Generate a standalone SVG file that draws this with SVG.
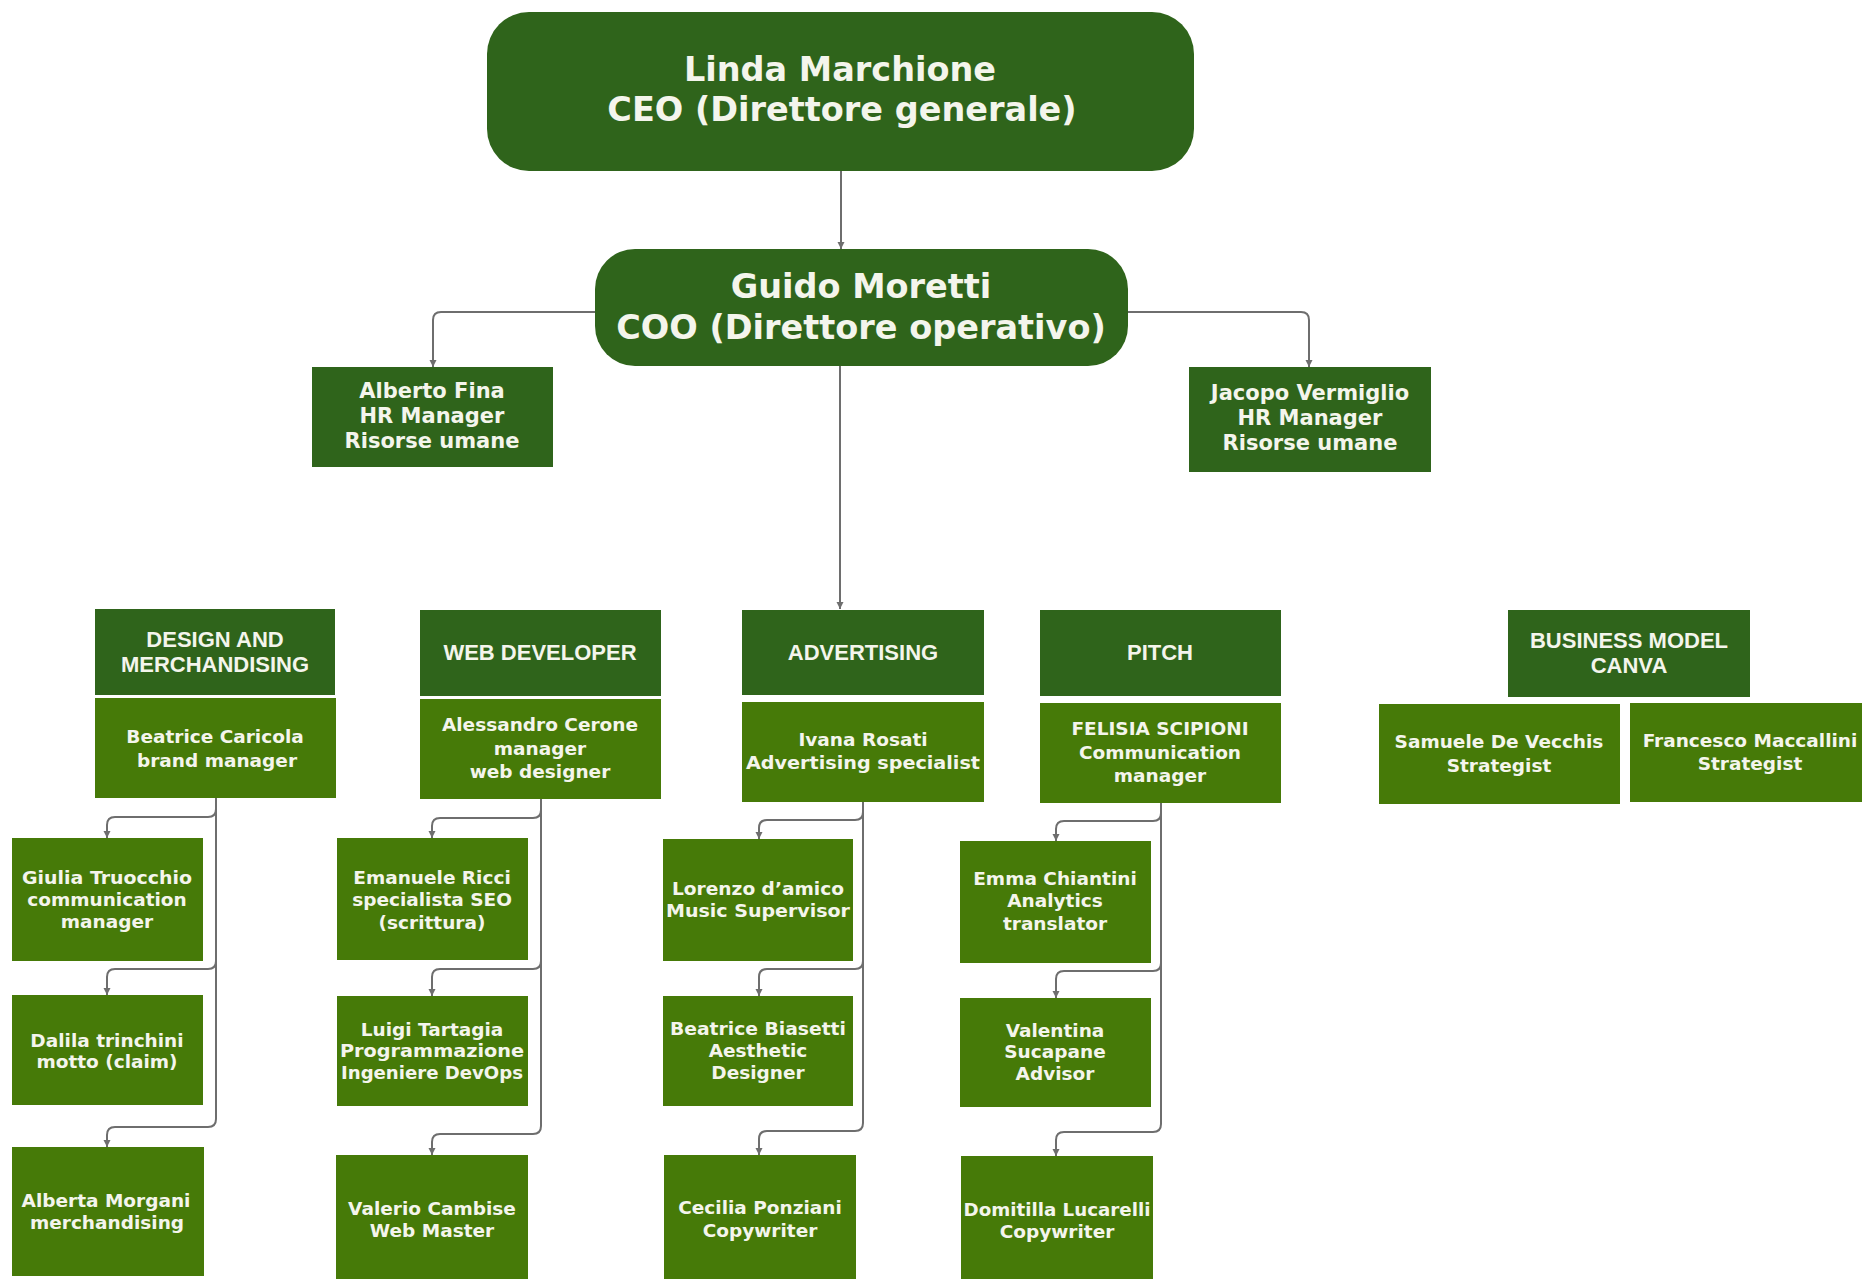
<svg xmlns="http://www.w3.org/2000/svg" width="1862" height="1279" viewBox="0 0 1862 1279">
<defs>
<style>
.dark{fill:#2f641b;}
.light{fill:#467a08;}
.t{fill:#f4f5ec;font-family:"DejaVu Sans",sans-serif;font-weight:bold;text-anchor:middle;}
.big{font-size:33.5px;}
.hr{font-size:21px;}
.p{font-size:18.5px;}
.h{fill:#f4f5ec;font-family:"Liberation Sans",Arial,sans-serif;font-weight:bold;font-size:22px;text-anchor:middle;}
.c{fill:none;stroke:#6e6e6e;stroke-width:2;marker-end:url(#arr);}
</style>
<marker id="arr" markerUnits="userSpaceOnUse" markerWidth="8" markerHeight="8" refX="7" refY="4" orient="auto">
<path d="M0,0.5 L7,4 L0,7.5 z" fill="#6e6e6e"/>
</marker>
</defs>
<rect width="1862" height="1279" fill="#ffffff"/>

<g id="connectors">
<path class="c" d="M841 171 V249"/>
<path class="c" d="M595 312 H441 Q433 312 433 320 V367"/>
<path class="c" d="M1128 312 H1301 Q1309 312 1309 320 V367"/>
<path class="c" d="M840 366 V609"/>

<path class="c" d="M216 798 V809 Q216 817 208 817 H115 Q107 817 107 825 V838"/>
<path class="c" d="M216 798 V961 Q216 969 208 969 H115 Q107 969 107 977 V995"/>
<path class="c" d="M216 798 V1119 Q216 1127 208 1127 H115 Q107 1127 107 1135 V1147"/>

<path class="c" d="M541 799 V810 Q541 818 533 818 H440 Q432 818 432 826 V838"/>
<path class="c" d="M541 799 V961 Q541 969 533 969 H440 Q432 969 432 977 V996"/>
<path class="c" d="M541 799 V1126 Q541 1134 533 1134 H440 Q432 1134 432 1142 V1155"/>

<path class="c" d="M863 802 V812 Q863 820 855 820 H767 Q759 820 759 828 V839"/>
<path class="c" d="M863 802 V961 Q863 969 855 969 H767 Q759 969 759 977 V996"/>
<path class="c" d="M863 802 V1123 Q863 1131 855 1131 H767 Q759 1131 759 1139 V1155"/>

<path class="c" d="M1161 803 V813 Q1161 821 1153 821 H1064 Q1056 821 1056 829 V841"/>
<path class="c" d="M1161 803 V963 Q1161 971 1153 971 H1064 Q1056 971 1056 979 V998"/>
<path class="c" d="M1161 803 V1124 Q1161 1132 1153 1132 H1064 Q1056 1132 1056 1140 V1156"/>
</g>

<g id="ceo">
<rect class="dark" x="487" y="12" width="707" height="159" rx="42"/>
<text class="t big" x="840" y="81">Linda Marchione</text>
<text class="t big" x="842" y="121">CEO (Direttore generale)</text>
</g>
<g id="coo">
<rect class="dark" x="595" y="249" width="533" height="117" rx="40"/>
<text class="t big" x="861" y="298">Guido Moretti</text>
<text class="t big" x="861" y="339">COO (Direttore operativo)</text>
</g>
<g id="alberto">
<rect class="dark" x="312" y="367" width="241" height="100"/>
<text class="t hr" x="432" y="398">Alberto Fina</text>
<text class="t hr" x="432" y="423">HR Manager</text>
<text class="t hr" x="432" y="448">Risorse umane</text>
</g>
<g id="jacopo">
<rect class="dark" x="1189" y="367" width="242" height="105"/>
<text class="t hr" x="1310" y="400">Jacopo Vermiglio</text>
<text class="t hr" x="1310" y="425">HR Manager</text>
<text class="t hr" x="1310" y="450">Risorse umane</text>
</g>

<g id="design">
<rect class="dark" x="95" y="609" width="240" height="86"/>
<text class="h" x="215" y="647">DESIGN AND</text>
<text class="h" x="215" y="672">MERCHANDISING</text>
</g>
<g id="web">
<rect class="dark" x="420" y="610" width="241" height="86"/>
<text class="h" x="540" y="660">WEB DEVELOPER</text>
</g>
<g id="advertising">
<rect class="dark" x="742" y="610" width="242" height="85"/>
<text class="h" x="863" y="660">ADVERTISING</text>
</g>
<g id="pitch">
<rect class="dark" x="1040" y="610" width="241" height="86"/>
<text class="h" x="1160" y="660">PITCH</text>
</g>
<g id="bmc">
<rect class="dark" x="1508" y="610" width="242" height="87"/>
<text class="h" x="1629" y="648">BUSINESS MODEL</text>
<text class="h" x="1629" y="673">CANVA</text>
</g>

<g id="beatrice-caricola">
<rect class="light" x="95" y="698" width="241" height="100"/>
<text class="t p" x="215" y="743">Beatrice Caricola</text>
<text class="t p" x="217" y="767">brand manager</text>
</g>
<g id="alessandro">
<rect class="light" x="420" y="699" width="241" height="100"/>
<text class="t p" x="540" y="731">Alessandro Cerone</text>
<text class="t p" x="540" y="755">manager</text>
<text class="t p" x="540" y="778">web designer</text>
</g>
<g id="ivana">
<rect class="light" x="742" y="702" width="242" height="100"/>
<text class="t p" x="863" y="746">Ivana Rosati</text>
<text class="t p" x="863" y="769" textLength="234" lengthAdjust="spacingAndGlyphs">Advertising specialist</text>
</g>
<g id="felisia">
<rect class="light" x="1040" y="703" width="241" height="100"/>
<text class="t p" x="1160" y="735">FELISIA SCIPIONI</text>
<text class="t p" x="1160" y="759">Communication</text>
<text class="t p" x="1160" y="782">manager</text>
</g>
<g id="samuele">
<rect class="light" x="1379" y="704" width="241" height="100"/>
<text class="t p" x="1499" y="748">Samuele De Vecchis</text>
<text class="t p" x="1499" y="772">Strategist</text>
</g>
<g id="francesco">
<rect class="light" x="1630" y="703" width="240" height="99"/>
<text class="t p" x="1750" y="747">Francesco Maccallini</text>
<text class="t p" x="1750" y="770">Strategist</text>
</g>

<g id="giulia">
<rect class="light" x="12" y="838" width="191" height="123"/>
<text class="t p" x="107" y="884" textLength="170" lengthAdjust="spacingAndGlyphs">Giulia Truocchio</text>
<text class="t p" x="107" y="906">communication</text>
<text class="t p" x="107" y="928">manager</text>
</g>
<g id="dalila">
<rect class="light" x="12" y="995" width="191" height="110"/>
<text class="t p" x="107" y="1047">Dalila trinchini</text>
<text class="t p" x="107" y="1068">motto (claim)</text>
</g>
<g id="alberta">
<rect class="light" x="12" y="1147" width="192" height="129"/>
<text class="t p" x="106" y="1207">Alberta Morgani</text>
<text class="t p" x="107" y="1229">merchandising</text>
</g>

<g id="emanuele">
<rect class="light" x="337" y="838" width="191" height="122"/>
<text class="t p" x="432" y="884">Emanuele Ricci</text>
<text class="t p" x="432" y="906">specialista SEO</text>
<text class="t p" x="432" y="929">(scrittura)</text>
</g>
<g id="luigi">
<rect class="light" x="337" y="996" width="191" height="110"/>
<text class="t p" x="432" y="1036">Luigi Tartagia</text>
<text class="t p" x="432" y="1057" textLength="184" lengthAdjust="spacingAndGlyphs">Programmazione</text>
<text class="t p" x="432" y="1079" textLength="182" lengthAdjust="spacingAndGlyphs">Ingeniere DevOps</text>
</g>
<g id="valerio">
<rect class="light" x="336" y="1155" width="192" height="130"/>
<text class="t p" x="432" y="1215">Valerio Cambise</text>
<text class="t p" x="432" y="1237">Web Master</text>
</g>

<g id="lorenzo">
<rect class="light" x="663" y="839" width="190" height="122"/>
<text class="t p" x="758" y="895" textLength="172" lengthAdjust="spacingAndGlyphs">Lorenzo d’amico</text>
<text class="t p" x="758" y="917" textLength="184" lengthAdjust="spacingAndGlyphs">Music Supervisor</text>
</g>
<g id="beatrice-biasetti">
<rect class="light" x="663" y="996" width="190" height="110"/>
<text class="t p" x="758" y="1035" textLength="176" lengthAdjust="spacingAndGlyphs">Beatrice Biasetti</text>
<text class="t p" x="758" y="1057">Aesthetic</text>
<text class="t p" x="758" y="1079">Designer</text>
</g>
<g id="cecilia">
<rect class="light" x="664" y="1155" width="192" height="130"/>
<text class="t p" x="760" y="1214">Cecilia Ponziani</text>
<text class="t p" x="760" y="1237">Copywriter</text>
</g>

<g id="emma">
<rect class="light" x="960" y="841" width="191" height="122"/>
<text class="t p" x="1055" y="885">Emma Chiantini</text>
<text class="t p" x="1055" y="907">Analytics</text>
<text class="t p" x="1055" y="930">translator</text>
</g>
<g id="valentina">
<rect class="light" x="960" y="998" width="191" height="109"/>
<text class="t p" x="1055" y="1037">Valentina</text>
<text class="t p" x="1055" y="1058">Sucapane</text>
<text class="t p" x="1055" y="1080">Advisor</text>
</g>
<g id="domitilla">
<rect class="light" x="961" y="1156" width="192" height="130"/>
<text class="t p" x="1057" y="1216" textLength="187" lengthAdjust="spacingAndGlyphs">Domitilla Lucarelli</text>
<text class="t p" x="1057" y="1238">Copywriter</text>
</g>
</svg>
